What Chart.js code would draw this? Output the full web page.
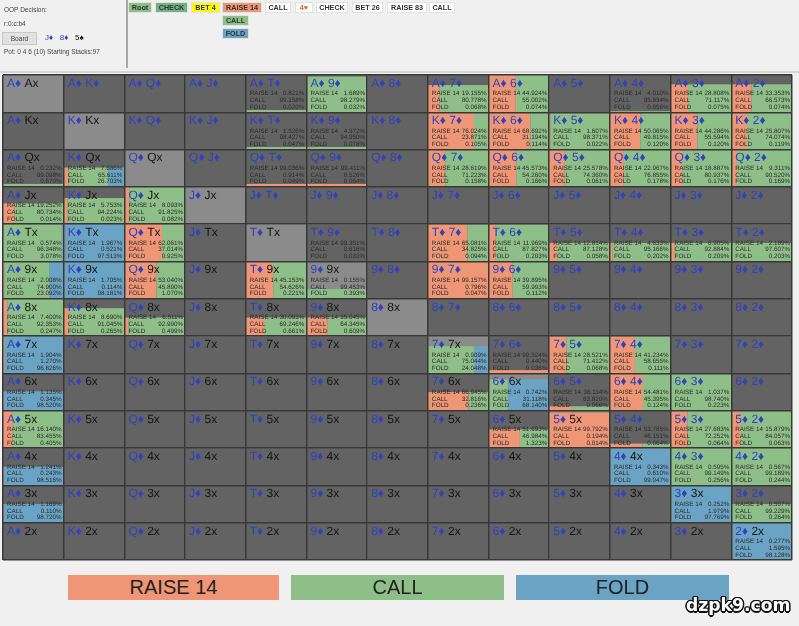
<!DOCTYPE html>
<html><head><meta charset="utf-8">
<style>
html,body{margin:0;padding:0;background:#f0f0f0;width:799px;height:626px;overflow:hidden;font-family:"Liberation Sans",Arial,sans-serif}
#page{position:relative;width:799px;height:626px;filter:blur(0.35px)}
canvas{position:absolute;left:0;top:0}
.t{position:absolute;font-size:6.5px;line-height:8px;color:#444;white-space:nowrap}
.nav{position:absolute;box-sizing:border-box;font-size:7.2px;font-weight:bold;text-align:center;color:#333;border:1px solid #e2e2e2;line-height:9px;white-space:nowrap}
.leg{position:absolute;top:575px;height:25px;line-height:25px;font-size:20px;text-align:center;color:#222}
#sep1{position:absolute;left:126px;top:0;width:2px;height:68px;background:#a8a8a8}
#sep2{position:absolute;left:0;top:71px;width:799px;height:2px;background:#d4d4d4}
#board{position:absolute;left:2px;top:32px;width:35px;height:13px;background:#e1e1e1;border:1px solid #c8c8c8;box-sizing:border-box;font-size:6.6px;line-height:11px;text-align:center;color:#444}
#mark{position:absolute;left:686px;top:595px;font:bold 17.2px "DejaVu Sans",sans-serif;color:#fff;text-shadow:-1px -1px 0 #111,1px -1px 0 #111,-1px 1px 0 #111,1px 1px 0 #111,0 -1.5px 0 #111,0 1.5px 0 #111,-1.5px 0 0 #111,1.5px 0 0 #111}
</style></head><body><div id="page">
<canvas id="c" width="799" height="626"></canvas>
<div class="t" style="left:4px;top:6px">OOP Decision:</div>
<div class="t" style="left:4px;top:20px">r:0:c:b4</div>
<div id="board">Board</div>
<div class="t" id="bd" style="left:45px;top:34px;font-size:8px"><span style="color:#2a3fc7">J♦</span>&nbsp;&nbsp;&nbsp;<span style="color:#2a3fc7">8♦</span>&nbsp;&nbsp;&nbsp;<span style="color:#111">5♠</span></div>
<div class="t" style="left:4px;top:48px">Pot: 0 4 6 (10) Starting Stacks:97</div>
<div id="sep1"></div><div id="sep2"></div>
<div id="navs"></div><div id="legend"></div>
<div id="mark">dzpk9.com</div>
</div>
<script src="https://cdn.jsdelivr.net/npm/chart.js@4/dist/chart.umd.min.js"></script>
<script>
const RANKS = ['A','K','Q','J','T','9','8','7','6','5','4','3','2'];
const ACTIONS = ['RAISE 14','CALL','FOLD'];
const ACTION_COLORS = ['#ee9675','#8fbf88','#6ba3c5'];
const n = null;
// percentages by row (first rank) and column (second rank); null = no combos
const RAISE = [
[n,n,n,n,0.821,1.689,n,19.155,44.924,n,4.010,28.808,33.353],
[n,n,n,n,1.526,4.972,n,76.024,68.692,1.607,50.065,44.286,25.807],
[0.232,7.686,n,n,99.036,99.411,n,28.619,45.573,25.578,22.967,18.887,9.311],
[19.252,5.753,8.093,n,n,n,n,n,n,n,n,n,n],
[0.574,1.967,62.061,n,n,99.351,n,65.081,11.969,12.814,4.633,6.905,2.189],
[2.008,1.705,53.040,n,45.153,0.155,n,99.157,39.895,n,n,n,n],
[7.400,8.690,6.511,n,30.093,35.045,n,n,n,n,n,n,n],
[1.904,n,n,n,n,n,n,0.909,99.524,28.521,41.234,n,n],
[1.135,n,n,n,n,n,n,66.945,0.742,36.114,54.481,1.037,n],
[16.140,n,n,n,n,n,n,n,51.693,99.792,53.785,27.683,15.879],
[1.241,n,n,n,n,n,n,n,n,n,0.343,0.595,0.567],
[1.169,n,n,n,n,n,n,n,n,n,n,0.252,0.507],
[n,n,n,n,n,n,n,n,n,n,n,n,0.277]];
const CALL = [
[n,n,n,n,99.158,98.279,n,80.778,55.002,n,95.934,71.117,66.573],
[n,n,n,n,98.427,94.950,n,23.871,31.194,98.371,49.815,55.594,74.074],
[99.098,65.611,n,n,0.914,0.526,n,71.223,54.260,74.360,76.855,80.937,90.520],
[80.734,94.224,91.825,n,n,n,n,n,n,n,n,n,n],
[96.348,0.521,37.014,n,n,0.616,n,34.825,87.827,87.128,95.166,92.884,97.607],
[74.900,0.114,45.890,n,54.626,99.453,n,0.796,59.993,n,n,n,n],
[92.353,91.045,92.990,n,69.246,64.345,n,n,n,n,n,n,n],
[1.270,n,n,n,n,n,n,75.044,0.440,71.412,58.655,n,n],
[0.345,n,n,n,n,n,n,32.816,31.118,63.820,45.395,98.740,n],
[83.455,n,n,n,n,n,n,n,46.984,0.194,46.151,72.252,84.057],
[0.243,n,n,n,n,n,n,n,n,n,0.610,99.149,99.189],
[0.110,n,n,n,n,n,n,n,n,n,n,1.979,99.229],
[n,n,n,n,n,n,n,n,n,n,n,n,1.595]];
const FOLD = [
[n,n,n,n,0.020,0.032,n,0.068,0.074,n,0.056,0.075,0.074],
[n,n,n,n,0.047,0.078,n,0.105,0.114,0.022,0.120,0.120,0.119],
[0.670,26.703,n,n,0.049,0.064,n,0.158,0.166,0.061,0.178,0.176,0.169],
[0.014,0.023,0.082,n,n,n,n,n,n,n,n,n,n],
[3.078,97.513,0.925,n,n,0.033,n,0.094,0.203,0.058,0.202,0.209,0.203],
[23.092,98.181,1.070,n,0.221,0.393,n,0.047,0.112,n,n,n,n],
[0.247,0.265,0.499,n,0.661,0.609,n,n,n,n,n,n,n],
[96.826,n,n,n,n,n,n,24.048,0.036,0.068,0.111,n,n],
[98.520,n,n,n,n,n,n,0.236,68.140,0.066,0.124,0.223,n],
[0.405,n,n,n,n,n,n,n,1.323,0.014,0.064,0.064,0.063],
[98.516,n,n,n,n,n,n,n,n,n,99.047,0.256,0.244],
[98.720,n,n,n,n,n,n,n,n,n,n,97.769,0.264],
[n,n,n,n,n,n,n,n,n,n,n,n,98.128]];
// share of each cell's height that is coloured
const WEIGHT = [
[n,n,n,n,0.06,0.96,n,0.73,1,n,0.03,0.75,0.75],
[n,n,n,n,0.07,0.07,n,1,1,1,1,1,1],
[0.08,0.52,n,n,0.08,0.08,n,1,1,1,1,1,1],
[0.56,0.70,1,n,n,n,n,n,n,n,n,n,n],
[1,1,1,n,n,0.01,n,1,1,0.5,0.5,0.5,0.5],
[1,1,1,n,1,0.26,n,1,1,n,n,n,n],
[1,0.75,0.5,n,0.5,0.5,n,n,n,n,n,n,n],
[1,n,n,n,n,n,n,0.73,0.09,1,1,n,n],
[0.52,n,n,n,n,n,n,0.5,0.84,0.12,1,1,n],
[1,n,n,n,n,n,n,n,0.5,0.95,0.12,1,1],
[0.5,n,n,n,n,n,n,n,n,n,1,1,1],
[0.5,n,n,n,n,n,n,n,n,n,n,1,0.5],
[n,n,n,n,n,n,n,n,n,n,n,n,1]];
const NAV_LABELS = ['Root','CHECK','BET 4','RAISE 14','CALL','4♥','CHECK','BET 26','RAISE 83','CALL','CALL','FOLD'];

const SERIES = [RAISE, CALL, FOLD];
const DEAD = '#636363', DIAG = '#8b8b8b', BLUE = '#2f42c0';

const navStyle = [[128,152,2,'#8fbf88'],[155,188,2,'#6fb583'],[191,220,2,'#ffff00'],[222,262,2,'#ee9675'],[265,291,2,'#fff'],[295,313,2,'#fff'],[316,348,2,'#fff'],[352,383,2,'#fff'],[387,427,2,'#fff'],[429,455,2,'#fff'],[222,249,15,'#8fbf88'],[222,249,28,'#6ba3c5']];
NAV_LABELS.forEach((s,i)=>{const d=document.createElement('div');d.className='nav';const [a,b,t,c]=navStyle[i];
 d.style.cssText=`left:${a}px;width:${b-a}px;top:${t}px;height:11px;background:${c};`+(i==5?'color:#e0622f':'');d.textContent=s;document.getElementById('navs').appendChild(d);});
[[68,279],[291,504],[516,729]].forEach(([a,b],i)=>{const d=document.createElement('div');d.className='leg';d.style.cssText=`left:${a}px;width:${b-a}px;background:${ACTION_COLORS[i]}`;d.textContent=ACTIONS[i];document.getElementById('legend').appendChild(d);});

function points(mat){const out=[];mat.forEach((r,i)=>r.forEach((v,j)=>{if(v!==null)out.push({x:j+0.5,y:i+0.5,v});}));return out;}

const cellPlugin={id:'cells',
 beforeDatasetsDraw(chart){
  const {ctx,scales:{x,y}}=chart;
  for(let i=0;i<13;i++)for(let j=0;j<13;j++){
   const l=x.getPixelForValue(j),r=x.getPixelForValue(j+1),t=y.getPixelForValue(i),b=y.getPixelForValue(i+1);
   ctx.fillStyle=i===j?DIAG:DEAD;ctx.fillRect(l,t,r-l,b-t);
   if(WEIGHT[i][j]===null)continue;
   const top=y.getPixelForValue(i+1-WEIGHT[i][j]);let acc=0;
   SERIES.forEach((m,k)=>{const a=x.getPixelForValue(j+acc/100);acc+=m[i][j];const c=x.getPixelForValue(j+Math.min(acc,100)/100);
    ctx.fillStyle=ACTION_COLORS[k];ctx.fillRect(a,top,c-a,b-top);});
  }
 },
 afterDraw(chart){
  const {ctx,scales:{x,y}}=chart;ctx.save();ctx.textBaseline='middle';ctx.textRendering='geometricPrecision';
  for(let i=0;i<13;i++)for(let j=0;j<13;j++){
   const l=x.getPixelForValue(j),r=x.getPixelForValue(j+1),t=y.getPixelForValue(i);
   let a,b,upper=i<j;
   if(upper){a=RANKS[i]+'♦ ';b=RANKS[j]+'♦';}else{a=RANKS[j]+'♦ ';b=RANKS[i]+'x';}
   ctx.font='12px "Liberation Sans"';ctx.textAlign='left';
   ctx.fillStyle=BLUE;ctx.fillText(a,l+4,t+8.5);const w=ctx.measureText(a).width;
   ctx.fillStyle=upper?BLUE:'#151515';ctx.fillText(b,l+4+w,t+8.5);
   if(RAISE[i][j]===null)continue;
   ctx.font='6.3px "Liberation Sans"';ctx.fillStyle='#2b2b2b';
   SERIES.forEach((m,k)=>{const yy=t+18.7+k*6.7;ctx.textAlign='left';ctx.fillText(ACTIONS[k],l+4,yy);
    ctx.textAlign='right';ctx.fillText(m[i][j].toFixed(3)+'%',r-2,yy);});
  }
  ctx.restore();
 }};

Chart.defaults.animation=false;
new Chart(document.getElementById('c'),{
 type:'scatter',
 data:{datasets:ACTIONS.map((name,k)=>({label:name,data:points(SERIES[k]),backgroundColor:ACTION_COLORS[k],pointRadius:0}))},
 options:{responsive:false,devicePixelRatio:1,animation:false,
  layout:{padding:{left:3,right:7,top:75,bottom:66}},
  plugins:{legend:{display:false},tooltip:{enabled:false}},
  scales:{
   x:{type:'linear',min:0,max:13,ticks:{display:false,stepSize:1},border:{display:false},grid:{z:1,color:'#383838',lineWidth:1.5,drawTicks:false}},
   y:{type:'linear',min:0,max:13,reverse:true,ticks:{display:false,stepSize:1},border:{display:false},grid:{z:1,color:'#383838',lineWidth:1.5,drawTicks:false}}
  }},
 plugins:[cellPlugin]
});
</script></body></html>
